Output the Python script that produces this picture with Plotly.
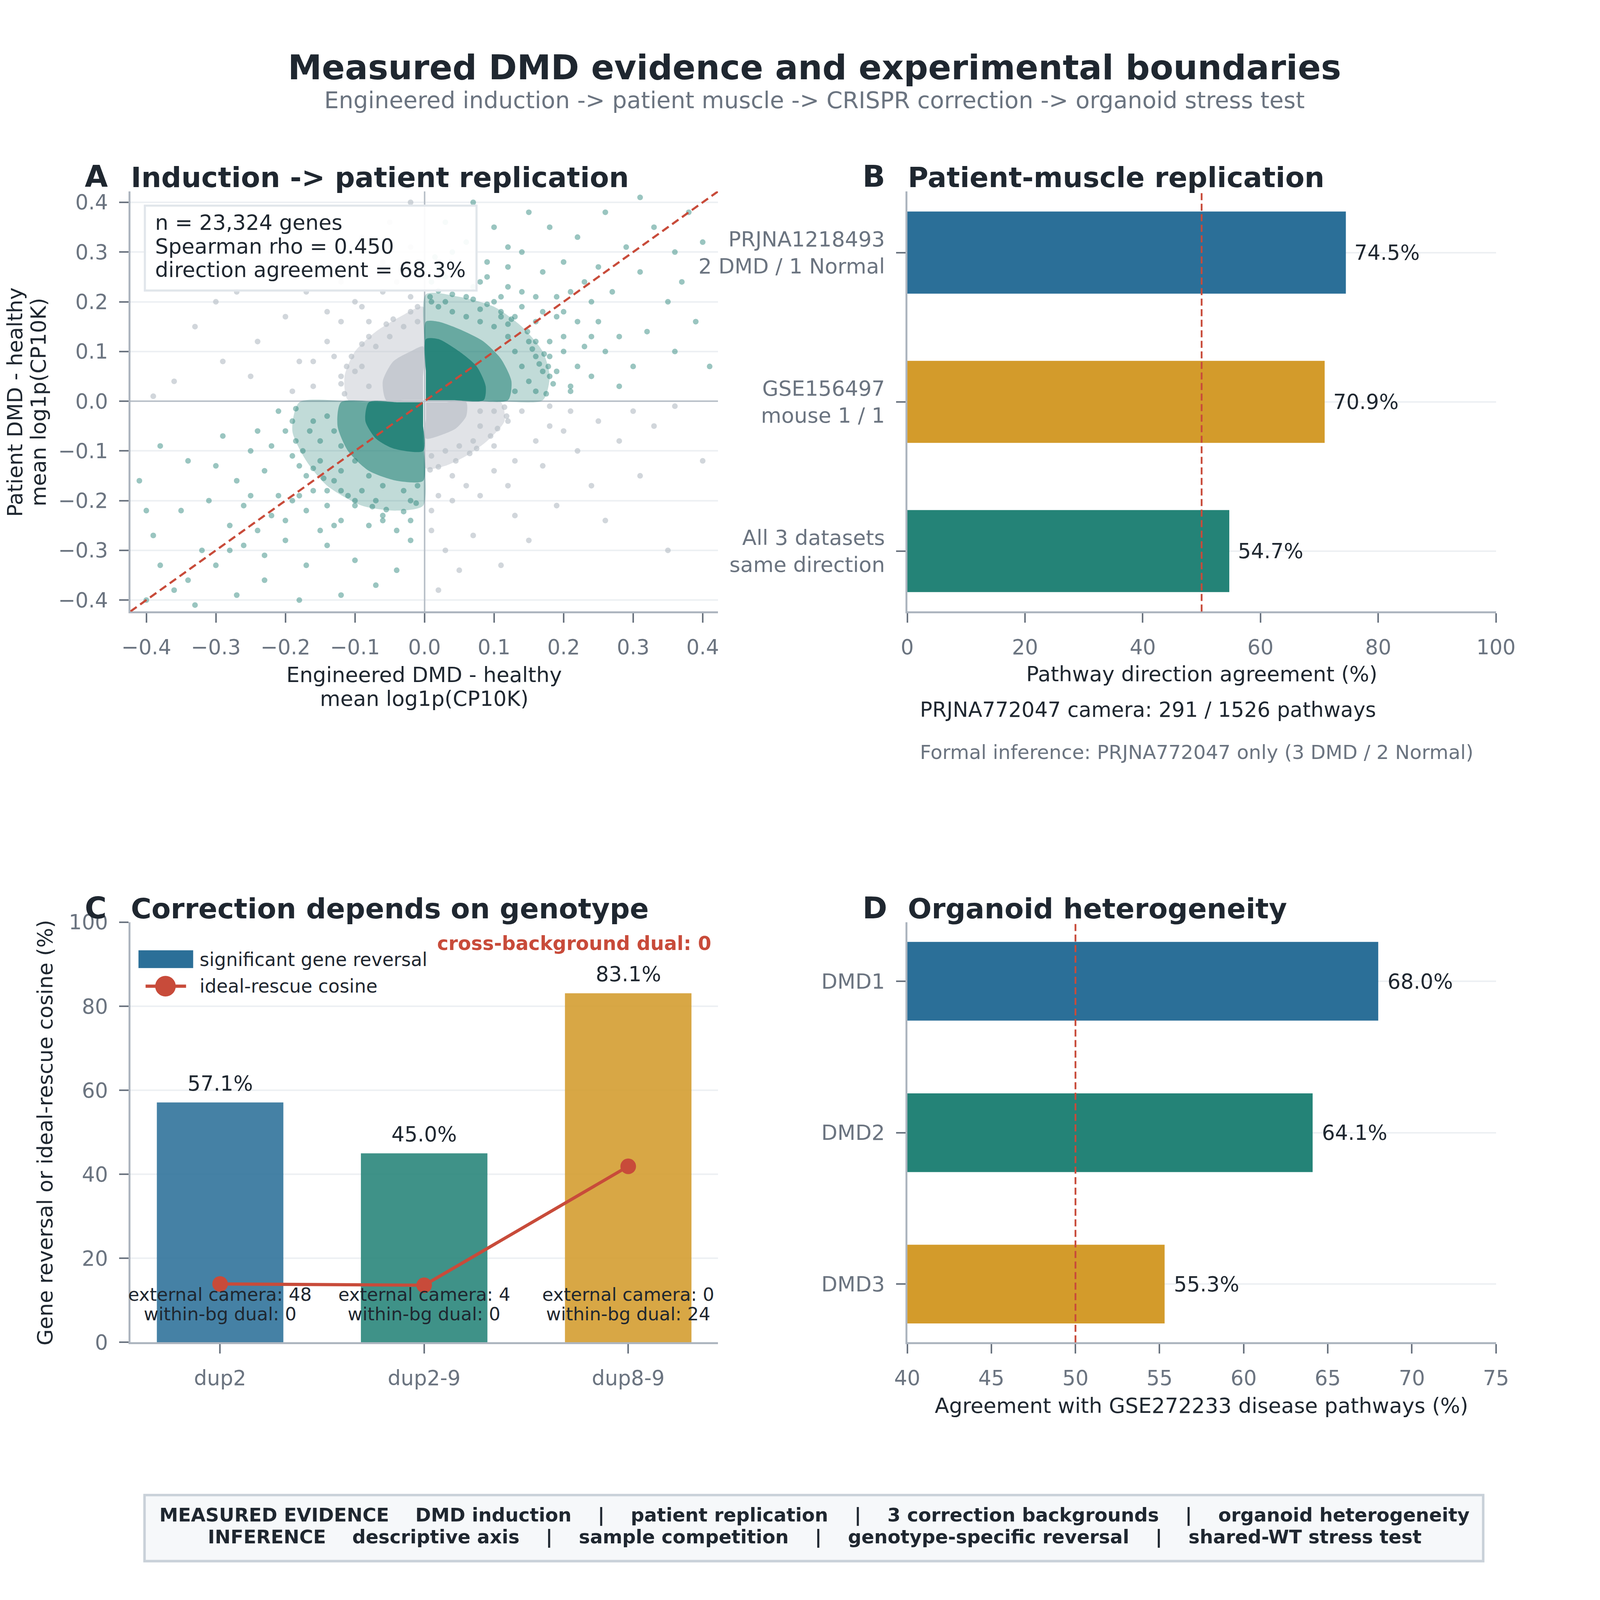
import plotly.graph_objects as go

# the page is photographed at a device scale of about 1.1, so pixel sizes are scaled down to fit
S = 1 / 1.1
PAGE_MARGIN = 8 * 1.1  # body margin of the html page, in reference pixels
REF_W, REF_H = 4320, 4500
FONT = "DejaVu Sans"
DARK = "#1f2730"
GREY = "#6b7480"
SPINE = "#adb5bf"
GRID = "#edf0f3"
BLUE = "#2b6f98"
GOLD = "#d39b2b"
TEAL = "#248377"
RED = "#c84b3a"

# ---------------- data ----------------
A_TICKS = [-0.4, -0.3, -0.2, -0.1, 0.0, 0.1, 0.2, 0.3, 0.4]
A_TICK_TEXT = ["\u22120.4", "\u22120.3", "\u22120.2", "\u22120.1", "0.0", "0.1", "0.2", "0.3", "0.4"]
A_RANGE = [-0.423, 0.422]
A_STATS = ["n = 23,324 genes", "Spearman rho = 0.450", "direction agreement = 68.3%"]

# dense point clouds, outlined as density levels
AGREE_Q1_OUTER = [(0.002, 0.002), (0.09, 0.002), (0.17, 0.002), (0.18, 0.05), (0.17, 0.1), (0.14, 0.15), (0.1, 0.19), (0.05, 0.21), (0.002, 0.215), (0.002, 0.1)]
AGREE_Q1_INNER = [(0.002, 0.002), (0.06, 0.002), (0.12, 0.002), (0.125, 0.04), (0.11, 0.085), (0.085, 0.12), (0.05, 0.145), (0.02, 0.16), (0.002, 0.16), (0.002, 0.08)]
AGREE_Q1_DENSE = [(0.002, 0.002), (0.04, 0.002), (0.085, 0.002), (0.088, 0.03), (0.075, 0.07), (0.05, 0.1), (0.02, 0.125), (0.002, 0.125), (0.002, 0.06)]
AGREE_Q3_OUTER = [(-0.002, -0.002), (-0.09, -0.002), (-0.18, -0.002), (-0.19, -0.06), (-0.17, -0.12), (-0.14, -0.17), (-0.09, -0.21), (-0.04, -0.22), (-0.002, -0.21), (-0.002, -0.1)]
AGREE_Q3_INNER = [(-0.002, -0.002), (-0.06, -0.002), (-0.12, -0.002), (-0.125, -0.05), (-0.11, -0.1), (-0.08, -0.14), (-0.04, -0.16), (-0.002, -0.16), (-0.002, -0.08)]
AGREE_Q3_DENSE = [(-0.002, -0.002), (-0.04, -0.002), (-0.08, -0.002), (-0.085, -0.04), (-0.07, -0.075), (-0.045, -0.095), (-0.002, -0.1), (-0.002, -0.05)]
OTHER_Q2_OUTER = [(-0.002, 0.002), (-0.05, 0.002), (-0.11, 0.002), (-0.115, 0.05), (-0.1, 0.1), (-0.07, 0.14), (-0.035, 0.17), (-0.002, 0.19), (-0.002, 0.09)]
OTHER_Q2_INNER = [(-0.002, 0.002), (-0.03, 0.002), (-0.055, 0.002), (-0.06, 0.04), (-0.045, 0.08), (-0.02, 0.1), (-0.002, 0.11), (-0.002, 0.05)]
OTHER_Q4_OUTER = [(0.002, -0.002), (0.05, -0.002), (0.11, -0.002), (0.115, -0.04), (0.09, -0.08), (0.06, -0.11), (0.03, -0.13), (0.002, -0.135), (0.002, -0.06)]
OTHER_Q4_INNER = [(0.002, -0.002), (0.03, -0.002), (0.06, -0.002), (0.06, -0.03), (0.045, -0.055), (0.02, -0.07), (0.002, -0.075), (0.002, -0.035)]

# individual genes outside the dense clouds
AGREE_POINTS = [
    (0.175, 0.015), (0.185, 0.035), (0.178, 0.07), (0.172, 0.095), (0.16, 0.12), (0.148, 0.14), (0.125, 0.165),
    (0.11, 0.18), (0.09, 0.195), (0.07, 0.205), (0.04, 0.215), (0.02, 0.222), (0.008, 0.21), (0.155, 0.105),
    (0.165, 0.075), (0.12, 0.155), (0.08, 0.185), (0.03, 0.2),
    (0.13, 0.1), (0.14, 0.07), (0.15, 0.04), (0.13, 0.02), (0.12, 0.13), (0.1, 0.15), (0.08, 0.16), (0.06, 0.17),
    (0.04, 0.18), (0.02, 0.19), (0.01, 0.2), (0.15, 0.12), (0.16, 0.09), (0.17, 0.06), (0.16, 0.02), (0.11, 0.17),
    (0.19, 0.06), (0.2, 0.1), (0.18, 0.12), (0.16, 0.16), (0.14, 0.19), (0.11, 0.21), (0.07, 0.23), (0.03, 0.25),
    (0.01, 0.24), (0.21, 0.03), (0.22, 0.07), (0.17, 0.18), (0.12, 0.23), (0.05, 0.26), (0.015, 0.29), (0.2, 0.13),
    (0.23, 0.11), (0.09, 0.25), (0.18, 0.05), (0.2, 0.18), (0.19, 0.21), (0.16, 0.21), (0.14, 0.22), (0.08, 0.24),
    (0.02, 0.27), (0.04, 0.3), (0.03, 0.36), (0.06, 0.32), (0.09, 0.28), (0.12, 0.27), (0.14, 0.3), (0.17, 0.26),
    (0.2, 0.28), (0.23, 0.24), (0.24, 0.2), (0.25, 0.16), (0.26, 0.1), (0.27, 0.22), (0.29, 0.31), (0.31, 0.26),
    (0.33, 0.35), (0.36, 0.3), (0.38, 0.38), (0.4, 0.32), (0.35, 0.2), (0.32, 0.14), (0.3, 0.07), (0.36, 0.1),
    (0.39, 0.16), (0.41, 0.07), (0.28, 0.03), (0.24, 0.05), (0.22, 0.33), (0.18, 0.35), (0.15, 0.38), (0.1, 0.35),
    (0.07, 0.4), (0.26, 0.38), (0.31, 0.41), (0.37, 0.24), (0.12, 0.31), (0.21, 0.02), (0.25, 0.27), (0.28, 0.13),
    (0.22, 0.16), (0.18, 0.09), (0.19, 0.17), (0.21, 0.22), (0.06, 0.21), (0.1, 0.2), (0.13, 0.17), (0.24, 0.13),
    (-0.185, -0.015), (-0.19, -0.04), (-0.185, -0.08), (-0.175, -0.1), (-0.16, -0.135), (-0.145, -0.155),
    (-0.12, -0.18), (-0.1, -0.2), (-0.075, -0.212), (-0.055, -0.218), (-0.03, -0.222), (-0.012, -0.205),
    (-0.165, -0.06), (-0.13, -0.16), (-0.07, -0.2), (-0.02, -0.2),
    (-0.12, -0.09), (-0.13, -0.06), (-0.14, -0.03), (-0.1, -0.12), (-0.08, -0.15), (-0.06, -0.17), (-0.03, -0.18),
    (-0.01, -0.17), (-0.15, -0.08), (-0.16, -0.04), (-0.12, -0.14), (-0.09, -0.18), (-0.15, -0.12),
    (-0.2, -0.06), (-0.19, -0.11), (-0.17, -0.15), (-0.14, -0.18), (-0.1, -0.21), (-0.06, -0.23), (-0.02, -0.24),
    (-0.21, -0.02), (-0.22, -0.09), (-0.18, -0.19), (-0.12, -0.24), (-0.04, -0.26), (-0.23, -0.14), (-0.08, -0.25),
    (-0.19, -0.2), (-0.17, -0.22), (-0.14, -0.21), (-0.21, -0.19), (-0.22, -0.23), (-0.13, -0.25), (-0.06, -0.24),
    (-0.24, -0.26), (-0.26, -0.29), (-0.23, -0.31), (-0.28, -0.25), (-0.3, -0.33), (-0.32, -0.3), (-0.34, -0.36),
    (-0.36, -0.38), (-0.38, -0.33), (-0.4, -0.4), (-0.39, -0.27), (-0.35, -0.22), (-0.31, -0.2), (-0.27, -0.16),
    (-0.25, -0.1), (-0.29, -0.07), (-0.34, -0.12), (-0.38, -0.09), (-0.41, -0.16), (-0.24, -0.06), (-0.2, -0.28),
    (-0.17, -0.33), (-0.14, -0.29), (-0.1, -0.32), (-0.07, -0.37), (-0.04, -0.34), (-0.02, -0.28), (-0.12, -0.39),
    (-0.27, -0.39), (-0.33, -0.41), (-0.23, -0.36), (-0.18, -0.4), (-0.4, -0.22), (-0.26, -0.21), (-0.3, -0.13),
    (-0.18, -0.13), (-0.16, -0.18), (-0.11, -0.19), (-0.25, -0.19), (-0.2, -0.24), (-0.15, -0.26), (-0.28, -0.3),
]
OTHER_POINTS = [
    (-0.115, 0.015), (-0.12, 0.035), (-0.112, 0.07), (-0.105, 0.09), (-0.09, 0.115), (-0.08, 0.13),
    (-0.055, 0.155), (-0.045, 0.165), (-0.02, 0.18), (-0.01, 0.19), (-0.1, 0.06),
    (-0.08, 0.03), (-0.09, 0.07), (-0.07, 0.11), (-0.05, 0.13), (-0.03, 0.15), (-0.01, 0.16), (-0.12, 0.05),
    (-0.16, 0.03), (-0.16, 0.08), (-0.14, 0.12), (-0.12, 0.16), (-0.09, 0.19), (-0.06, 0.22), (-0.03, 0.26),
    (-0.01, 0.28), (-0.04, 0.24), (-0.1, 0.2), (-0.18, 0.08), (-0.2, 0.17), (-0.06, 0.28), (-0.02, 0.31),
    (-0.12, 0.24), (-0.17, 0.22), (-0.24, 0.12), (-0.27, 0.22), (-0.3, 0.2), (-0.33, 0.15), (-0.36, 0.04),
    (-0.31, 0.3), (-0.25, 0.05), (-0.21, 0.27), (-0.09, 0.33), (-0.05, 0.36), (-0.02, 0.4), (-0.29, 0.08),
    (-0.39, 0.01), (-0.19, 0.02), (-0.14, 0.18), (-0.02, 0.21), (-0.08, 0.16), (-0.13, 0.09),
    (0.115, -0.012), (0.118, -0.03), (0.105, -0.055), (0.095, -0.07), (0.075, -0.095), (0.065, -0.105),
    (0.045, -0.12), (0.02, -0.132), (0.008, -0.138), (0.1, -0.02),
    (0.08, -0.02), (0.08, -0.05), (0.07, -0.08), (0.05, -0.09), (0.03, -0.1), (0.01, -0.11), (0.12, -0.04),
    (0.18, -0.01), (0.18, -0.05), (0.16, -0.08), (0.13, -0.12), (0.1, -0.14), (0.06, -0.17), (0.02, -0.19),
    (0.01, -0.22), (0.04, -0.2), (0.2, -0.06), (0.17, -0.13), (0.08, -0.19), (0.22, -0.1), (0.25, -0.04),
    (0.28, -0.08), (0.3, -0.02), (0.33, -0.05), (0.36, -0.01), (0.24, -0.17), (0.19, -0.21), (0.13, -0.23),
    (0.07, -0.27), (0.03, -0.3), (0.11, -0.33), (0.02, -0.38), (0.26, -0.24), (0.31, -0.15), (0.35, -0.3),
    (0.4, -0.12), (0.15, -0.28), (0.05, -0.34), (0.01, -0.26), (0.21, -0.02), (0.12, -0.17), (0.1, -0.09),
    (0.14, -0.02), (0.04, -0.15),
]

# B: patient-muscle replication
B_LABELS = ["PRJNA1218493<br>2 DMD / 1 Normal", "GSE156497<br>mouse 1 / 1", "All 3 datasets<br>same direction"]
B_AGREEMENT = [74.5, 70.9, 54.7]
B_COLORS = [BLUE, GOLD, TEAL]
B_TICKS = [0, 20, 40, 60, 80, 100]
B_CAMERA_HITS, B_CAMERA_TOTAL = 291, 1526

# C: correction by genotype
C_GENOTYPES = ["dup2", "dup2-9", "dup8-9"]
C_REVERSAL = [57.1, 45.0, 83.1]
C_COSINE = [13.9, 13.6, 41.9]
C_EXTERNAL_CAMERA = [48, 4, 0]
C_WITHIN_DUAL = [0, 0, 24]
C_CROSS_DUAL = 0
C_COLORS = [BLUE, TEAL, GOLD]
C_TICKS = [0, 20, 40, 60, 80, 100]

# D: organoid heterogeneity
D_ORGANOIDS = ["DMD1", "DMD2", "DMD3"]
D_AGREEMENT = [68.0, 64.1, 55.3]
D_COLORS = [BLUE, TEAL, GOLD]
D_TICKS = [40, 45, 50, 55, 60, 65, 70, 75]

CHANCE = 50

FOOTER_MEASURED = ["DMD induction", "patient replication", "3 correction backgrounds", "organoid heterogeneity"]
FOOTER_INFERENCE = ["descriptive axis", "sample competition", "genotype-specific reversal", "shared-WT stress test"]


# ---------------- helpers ----------------
def px(x):
    return (x - PAGE_MARGIN) / REF_W


def py(y):
    return 1 - (y - PAGE_MARGIN) / REF_H


def s(v):
    return v * S


def note(text, x, y, size, color=DARK, xanchor="left", yanchor="middle", angle=0):
    return dict(text=text, x=px(x), y=py(y), xref="paper", yref="paper", showarrow=False,
                xanchor=xanchor, yanchor=yanchor, textangle=angle,
                font=dict(family=FONT, size=s(size), color=color))


def axis(**kw):
    base = dict(showline=True, linecolor=SPINE, linewidth=s(5), mirror=False,
                ticks="outside", ticklen=s(26), tickwidth=s(4), tickcolor=GREY,
                tickfont=dict(family=FONT, size=s(58), color=GREY), ticklabelstandoff=int(round(s(20))),
                showgrid=False, zeroline=False, automargin=False, fixedrange=True)
    base.update(kw)
    return base


XA = [px(367), px(2022)]
XB = [px(2555), px(4213)]
YTOP = [py(1722), py(539)]
YBOT = [py(3780), py(2597)]

fig = go.Figure()

# ---- A: density clouds then single genes ----
GREY_RGB, TEAL_RGB = "188,194,202", "31,127,116"
for poly, rgb, alpha in [(OTHER_Q2_OUTER, GREY_RGB, 0.45), (OTHER_Q2_INNER, GREY_RGB, 0.75),
                         (OTHER_Q4_OUTER, GREY_RGB, 0.45), (OTHER_Q4_INNER, GREY_RGB, 0.75),
                         (AGREE_Q1_OUTER, TEAL_RGB, 0.28), (AGREE_Q1_INNER, TEAL_RGB, 0.55),
                         (AGREE_Q1_DENSE, TEAL_RGB, 0.85),
                         (AGREE_Q3_OUTER, TEAL_RGB, 0.28), (AGREE_Q3_INNER, TEAL_RGB, 0.55),
                         (AGREE_Q3_DENSE, TEAL_RGB, 0.85)]:
    fig.add_trace(go.Scatter(
        x=[p[0] for p in poly], y=[p[1] for p in poly], mode="lines", fill="toself",
        fillcolor=f"rgba({rgb},{alpha})", line=dict(width=0, shape="spline", smoothing=0.7),
        xaxis="x", yaxis="y", showlegend=False, hoverinfo="skip"))
for pts, col, op in [(OTHER_POINTS, "#b3bac3", 0.6), (AGREE_POINTS, "#1f7f74", 0.45)]:
    fig.add_trace(go.Scatter(
        x=[p[0] for p in pts], y=[p[1] for p in pts], mode="markers",
        marker=dict(size=s(16), color=col, opacity=op, line=dict(width=0)),
        xaxis="x", yaxis="y", showlegend=False, hoverinfo="skip"))

# ---- B bars ----
fig.add_trace(go.Bar(
    x=B_AGREEMENT, y=B_LABELS, orientation="h", width=0.55,
    marker=dict(color=B_COLORS, line=dict(width=0)),
    xaxis="x2", yaxis="y2", showlegend=False, hoverinfo="skip"))

# ---- C bars + line ----
fig.add_trace(go.Bar(
    x=C_GENOTYPES, y=C_REVERSAL, width=0.62,
    marker=dict(color=C_COLORS, opacity=0.88, line=dict(width=0)),
    xaxis="x3", yaxis="y3", showlegend=False, hoverinfo="skip"))
fig.add_trace(go.Scatter(
    x=C_GENOTYPES, y=C_COSINE, mode="lines+markers",
    line=dict(color=RED, width=s(9)), marker=dict(size=s(44), color=RED),
    xaxis="x3", yaxis="y3", showlegend=False, hoverinfo="skip", cliponaxis=False))

# ---- D bars ----
fig.add_trace(go.Bar(
    x=D_AGREEMENT, y=D_ORGANOIDS, orientation="h", width=0.52,
    marker=dict(color=D_COLORS, line=dict(width=0)),
    xaxis="x4", yaxis="y4", showlegend=False, hoverinfo="skip"))

# ---------------- text ----------------
ann = [
    note("<b>Measured DMD evidence and experimental boundaries</b>", 2294, 190, 96, DARK, "center"),
    note("Engineered induction -> patient muscle -> CRISPR correction -> organoid stress test",
         2294, 282, 65, GREY, "center"),
    note("<b>A</b>", 236, 497, 84), note("<b>Induction -> patient replication</b>", 366, 499, 79),
    note("<b>B</b>", 2427, 497, 84), note("<b>Patient-muscle replication</b>", 2554, 499, 79),
    note("<b>C</b>", 236, 2557, 84), note("<b>Correction depends on genotype</b>", 366, 2559, 79),
    note("<b>D</b>", 2427, 2557, 84), note("<b>Organoid heterogeneity</b>", 2554, 2559, 79),
    note("Engineered DMD - healthy", 1195, 1900, 59, DARK, "center"),
    note("mean log1p(CP10K)", 1195, 1967, 59, DARK, "center"),
    note("Patient DMD - healthy", 42, 1132, 59, DARK, "center", angle=-90),
    note("mean log1p(CP10K)", 108, 1132, 59, DARK, "center", angle=-90),
    note("Pathway direction agreement (%)", 3384, 1898, 59, DARK, "center"),
    note(f"PRJNA772047 camera: {B_CAMERA_HITS} / {B_CAMERA_TOTAL} pathways", 2589, 1998, 58, DARK),
    note("Formal inference: PRJNA772047 only (3 DMD / 2 Normal)", 2589, 2119, 55, GREY),
    note("Gene reversal or ideal-rescue cosine (%)", 127, 3189, 59, DARK, "center", angle=-90),
    note(f"<b>cross-background dual: {C_CROSS_DUAL}</b>", 2005, 2656, 54, RED, "right"),
    note("significant gene reversal", 560, 2702, 52),
    note("ideal-rescue cosine", 560, 2777, 52),
    note("Agreement with GSE272233 disease pathways (%)", 3384, 3958, 59, DARK, "center"),
]
for i, line in enumerate(A_STATS):
    ann.append(note(line, 435, 626 + 67 * i, 59))

for lab, v in zip(B_LABELS, B_AGREEMENT):
    ann.append(dict(text=f"{v:.1f}%", x=v, y=lab, xref="x2", yref="y2", showarrow=False,
                    xanchor="left", yanchor="middle", xshift=s(22),
                    font=dict(family=FONT, size=s(58), color=DARK)))
for lab, v in zip(D_ORGANOIDS, D_AGREEMENT):
    ann.append(dict(text=f"{v:.1f}%", x=v, y=lab, xref="x4", yref="y4", showarrow=False,
                    xanchor="left", yanchor="middle", xshift=s(24),
                    font=dict(family=FONT, size=s(58), color=DARK)))
for g, v, ext, dual in zip(C_GENOTYPES, C_REVERSAL, C_EXTERNAL_CAMERA, C_WITHIN_DUAL):
    ann.append(dict(text=f"{v:.1f}%", x=g, y=v, xref="x3", yref="y3", showarrow=False,
                    yanchor="middle", yshift=s(54), font=dict(family=FONT, size=s(58), color=DARK)))
    ann.append(dict(text=f"external camera: {ext}", x=g, y=11.4, xref="x3", yref="y3", showarrow=False,
                    yanchor="middle", font=dict(family=FONT, size=s(51), color=DARK)))
    ann.append(dict(text=f"within-bg dual: {dual}", x=g, y=6.7, xref="x3", yref="y3", showarrow=False,
                    yanchor="middle", font=dict(family=FONT, size=s(51), color=DARK)))

gap = "\u00a0" * 4
sep = gap + "|" + gap
ann.append(note("<b>MEASURED EVIDENCE" + gap + sep.join(FOOTER_MEASURED) + "</b>", 2294, 4266, 53, DARK, "center"))
ann.append(note("<b>INFERENCE" + gap + sep.join(FOOTER_INFERENCE) + "</b>", 2294, 4328, 53, DARK, "center"))

# ---------------- shapes ----------------
shapes = [
    dict(type="rect", xref="paper", yref="paper", x0=px(408), x1=px(1342), y0=py(818), y1=py(579),
         fillcolor="rgba(255,255,255,0.92)", line=dict(color="#e1e6eb", width=s(6))),
    dict(type="line", xref="x", yref="y", x0=A_RANGE[0], y0=A_RANGE[0], x1=A_RANGE[1], y1=A_RANGE[1],
         line=dict(color=RED, width=s(6), dash=f"{s(22):.0f}px,{s(12):.0f}px")),
    dict(type="line", xref="x2", yref="y2 domain", x0=CHANCE, x1=CHANCE, y0=0, y1=1,
         line=dict(color=RED, width=s(5), dash=f"{s(20):.0f}px,{s(10):.0f}px")),
    dict(type="line", xref="x4", yref="y4 domain", x0=CHANCE, x1=CHANCE, y0=0, y1=1,
         line=dict(color=RED, width=s(5), dash=f"{s(20):.0f}px,{s(10):.0f}px")),
    dict(type="rect", xref="paper", yref="paper", x0=px(390), x1=px(544), y0=py(2726), y1=py(2676),
         fillcolor=BLUE, line=dict(width=0)),
    dict(type="line", xref="paper", yref="paper", x0=px(410), x1=px(524), y0=py(2777), y1=py(2777),
         line=dict(color=RED, width=s(9))),
    dict(type="circle", xref="paper", yref="paper", x0=px(437), x1=px(495), y0=py(2806), y1=py(2748),
         fillcolor=RED, line=dict(width=0)),
    dict(type="rect", xref="paper", yref="paper", x0=px(407), x1=px(4177), y0=py(4396), y1=py(4210),
         fillcolor="#f6f8fa", line=dict(color="#c9d1d9", width=s(7)), layer="below"),
]

fig.update_layout(
    width=round(REF_W * S), height=round(REF_H * S), margin=dict(l=0, r=0, t=0, b=0),
    paper_bgcolor="white", plot_bgcolor="white",
    font=dict(family=FONT, color=DARK),
    annotations=ann, shapes=shapes, showlegend=False,
    xaxis=axis(domain=XA, anchor="y", range=A_RANGE, tickvals=A_TICKS, ticktext=A_TICK_TEXT,
               zeroline=True, zerolinecolor="#bac1c9", zerolinewidth=s(4)),
    yaxis=axis(domain=YTOP, anchor="x", range=A_RANGE, tickvals=A_TICKS, ticktext=A_TICK_TEXT,
               showgrid=True, gridcolor=GRID, gridwidth=s(4),
               zeroline=True, zerolinecolor="#bac1c9", zerolinewidth=s(4)),
    xaxis2=axis(domain=XB, anchor="y2", range=[0, 100], tickvals=B_TICKS),
    yaxis2=axis(domain=YTOP, anchor="x2", type="category", categoryorder="array", categoryarray=B_LABELS,
                range=[2.405, -0.41], showgrid=True, gridcolor=GRID, gridwidth=s(4),
                tickfont=dict(family=FONT, size=s(59), color=GREY)),
    xaxis3=axis(domain=XA, anchor="y3", type="category", categoryorder="array", categoryarray=C_GENOTYPES,
                range=[-0.44, 2.44]),
    yaxis3=axis(domain=YBOT, anchor="x3", range=[0, 100], tickvals=C_TICKS,
                showgrid=True, gridcolor=GRID, gridwidth=s(4)),
    xaxis4=axis(domain=XB, anchor="y4", range=[40, 75], tickvals=D_TICKS),
    yaxis4=axis(domain=YBOT, anchor="x4", type="category", categoryorder="array", categoryarray=D_ORGANOIDS,
                range=[2.385, -0.39], showgrid=True, gridcolor=GRID, gridwidth=s(4),
                tickfont=dict(family=FONT, size=s(59), color=GREY)),
)

fig.write_html("out.html")
